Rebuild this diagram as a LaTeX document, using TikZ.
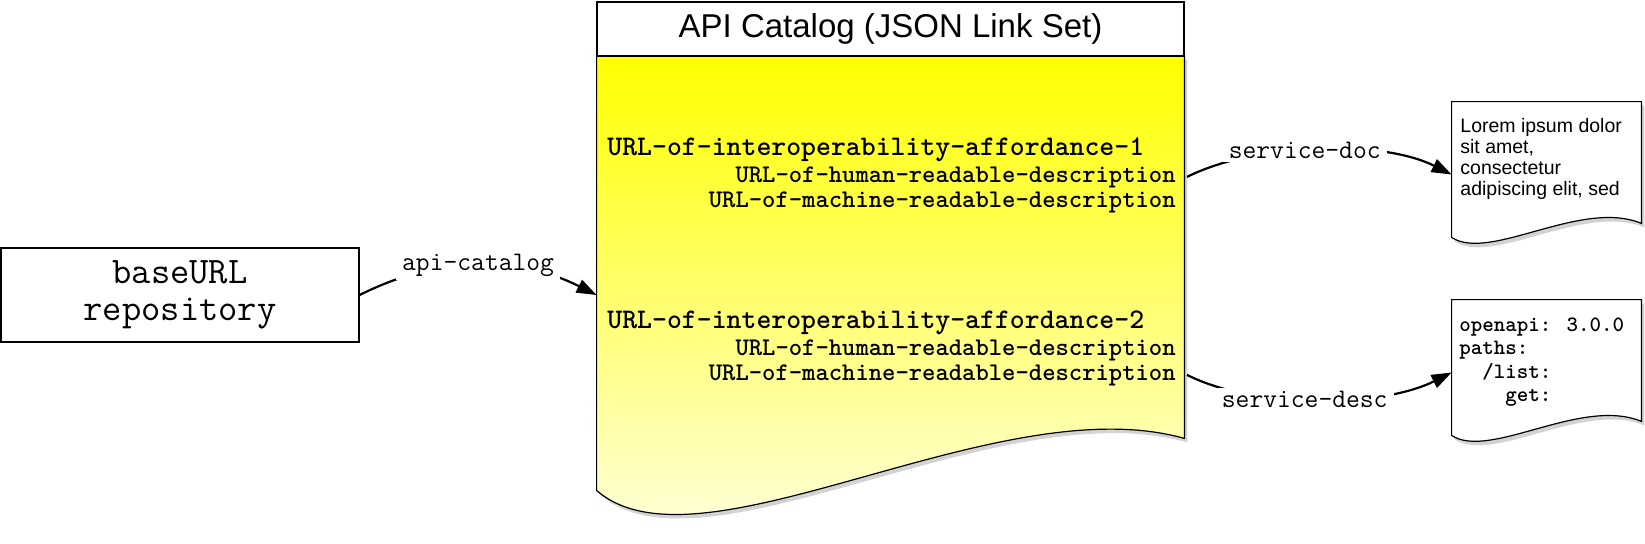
\documentclass[tikz,border=0pt]{standalone}
\usepackage{fontspec}
\setmainfont{Liberation Sans}
\usetikzlibrary{arrows.meta,shadows}

\begin{document}
\begin{tikzpicture}[x=0.5pt,y=-0.5pt,
  conn/.style={line width=1.1pt,-{Triangle[length=10pt,width=7pt]}},
  lbl/.style={fill=white,inner xsep=3pt,inner ysep=2pt,font=\fontsize{13.4}{14}\ttfamily},
  urlhead/.style={anchor=base west,inner sep=0pt,font=\fontsize{14.2}{16}\ttfamily\bfseries},
  urlsub/.style={anchor=base east,inner xsep=5.5pt,inner ysep=0pt,font=\fontsize{12.7}{14}\ttfamily\bfseries},
  docbox/.style={minimum width=94.5pt,minimum height=72.5pt,inner sep=0pt},
  shad/.style={drop shadow={opacity=0.35,shadow xshift=1.5pt,shadow yshift=-2pt}},
  docedge/.style={draw,line width=0.6pt,fill=white,shad}]
  \useasboundingbox (0,0) rectangle (1645,543);

  % repository
  \node[draw,line width=0.6pt,minimum width=179pt,minimum height=47pt,align=center,
    font=\fontsize{18.7}{18.5}\ttfamily] (base) at (180,295) {baseURL\\repository};

  % the api catalog document
  \node[minimum width=293.5pt,minimum height=217pt,inner sep=0pt] (body) at (890.5,273) {};
  \path[draw,line width=0.6pt,top color=yellow,bottom color=yellow!6,shad]
    (body.north west) -- (body.south west)
    .. controls +(103,90) and +(-188,-53) .. ([yshift=26pt]body.south east)
    -- (body.north east) -- cycle;
  \node[draw,line width=0.6pt,fill=white,minimum width=293.5pt,minimum height=27pt,inner sep=0pt,
    font=\fontsize{16.5}{18}\selectfont] (cat) at (890.5,29) {API Catalog (JSON Link Set)};

  \node[urlhead] (aff1) at (607,155) {URL-of-interoperability-affordance-1};
  \node[urlsub] (hum1) at (1187,182) {URL-of-human-readable-description};
  \node[urlsub] (mach1) at (1187,207) {URL-of-machine-readable-description};
  \node[urlhead] (aff2) at (607,328) {URL-of-interoperability-affordance-2};
  \node[urlsub] (hum2) at (1187,355) {URL-of-human-readable-description};
  \node[urlsub] (mach2) at (1187,380) {URL-of-machine-readable-description};

  % target documents
  \node[docbox] (doc1) at (1546.5,174.5) {};
  \path[docedge] (doc1.north west) -- ([yshift=5pt]doc1.south west)
    .. controls +(38,25) and +(-60,-25) .. ([yshift=12pt]doc1.south east)
    -- (doc1.north east) -- cycle;
  \node[anchor=north west,inner sep=0pt,align=left,font=\fontsize{9.75}{10.5}\selectfont] (lorem)
    at (1460,118) {Lorem ipsum dolor\\sit amet,\\consectetur\\adipiscing elit, sed};

  \node[docbox] (doc2) at (1546.5,372.5) {};
  \path[docedge] (doc2.north west) -- ([yshift=5pt]doc2.south west)
    .. controls +(38,25) and +(-60,-25) .. ([yshift=12pt]doc2.south east)
    -- (doc2.north east) -- cycle;
  \node[anchor=north west,inner sep=0pt,align=left,font=\fontsize{10.95}{11.75}\ttfamily\bfseries] (yaml)
    at (1459,317) {openapi: 3.0.0\\paths:\\\hphantom{mm}/list:\\\hphantom{mmmm}get:};

  % links
  \draw[conn] (base.east) .. controls +(80,-40) and +(-80,-40) .. (base.east -| body.west)
    node[lbl,midway] (lapi) {api-catalog};
  \draw[conn] (hum1.east) .. controls +(70,-35) and +(-70,-35) .. (doc1.west)
    node[lbl,pos=0.45] (ldoc) {service-doc};
  \draw[conn] (mach2.east) .. controls +(70,35) and +(-70,35) .. (doc2.west)
    node[lbl,pos=0.45] (ldesc) {service-desc};
\end{tikzpicture}
\end{document}
